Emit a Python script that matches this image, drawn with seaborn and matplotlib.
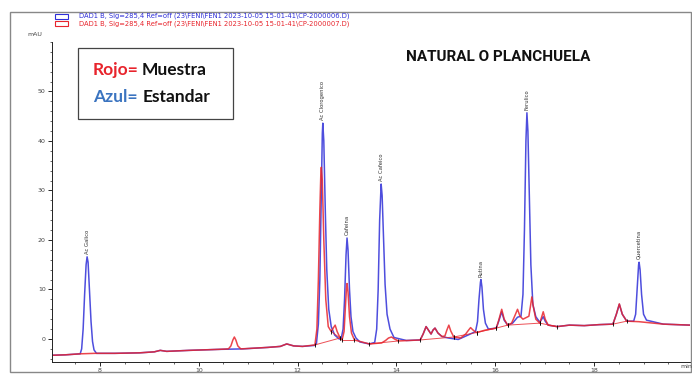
import numpy as np
import pandas as pd
import seaborn as sns
import matplotlib.pyplot as plt
from matplotlib.patches import Rectangle
from matplotlib.ticker import MultipleLocator

# blue trace = standard (estandar)
std_time = [7.00, 7.30, 7.60, 7.63, 7.66, 7.69, 7.72, 7.74, 7.76, 7.79, 7.82, 7.85, 7.88, 7.93,
            8.30, 8.80, 9.10, 9.22, 9.35, 9.80, 10.40, 10.90, 11.40, 11.65, 11.78, 11.92, 12.10,
            12.34, 12.38, 12.42, 12.45, 12.48, 12.50, 12.51, 12.53, 12.56, 12.59, 12.63, 12.68, 12.75,
            12.84, 12.88, 12.92, 12.95, 12.98, 13.00, 13.02, 13.05, 13.08, 13.12, 13.18, 13.26,
            13.45, 13.56, 13.60, 13.63, 13.66, 13.69, 13.71, 13.74, 13.77, 13.81, 13.87, 13.95, 14.20,
            14.48, 14.54, 14.60, 14.66, 14.70, 14.74, 14.78, 14.84, 14.92, 15.05, 15.25, 15.45,
            15.60, 15.64, 15.67, 15.70, 15.71, 15.73, 15.76, 15.80, 15.86, 16.02, 16.07, 16.13, 16.18,
            16.25, 16.35, 16.45, 16.52, 16.56, 16.59, 16.62, 16.64, 16.66, 16.69, 16.72, 16.76, 16.82,
            16.90, 16.94, 16.97, 17.01, 17.07, 17.25, 17.50, 17.80, 18.10, 18.38, 18.45, 18.51, 18.57,
            18.66, 18.80, 18.84, 18.87, 18.90, 18.91, 18.93, 18.96, 19.00, 19.06, 19.40, 19.94]
std_mau = [-3.3, -3.2, -3.0, -2.0, 2.0, 9.0, 15.0, 16.6, 15.5, 9.5, 3.5, -0.5, -2.2, -2.9,
           -2.9, -2.8, -2.6, -2.3, -2.5, -2.3, -2.1, -2.0, -1.7, -1.5, -1.0, -1.4, -1.5,
           -1.3, -1.0, 3.0, 12.0, 30.0, 41.5, 43.6, 40.0, 26.0, 14.0, 6.0, 2.5, 0.8,
           0.0, 0.0, 2.0, 8.0, 17.0, 20.4, 18.0, 10.0, 4.5, 1.5, 0.2, -0.6,
           -1.0, -0.7, 2.0, 10.0, 24.0, 31.3, 29.0, 20.0, 11.0, 5.0, 2.0, 0.3, -0.3,
           -0.2, 1.0, 2.5, 1.6, 1.0, 1.8, 2.2, 1.2, 0.5, 0.2, -0.1, 0.8,
           1.5, 3.5, 8.0, 11.5, 12.0, 10.5, 6.0, 3.2, 2.0, 2.2, 3.6, 5.5, 3.8,
           2.8, 3.2, 4.4, 4.6, 9.0, 22.0, 40.0, 45.7, 42.0, 28.0, 15.0, 7.0, 4.5,
           3.4, 4.0, 4.5, 3.6, 2.8, 2.5, 2.8, 2.7, 2.9, 3.0, 5.0, 7.0, 5.0,
           3.6, 3.6, 5.0, 10.0, 15.0, 15.5, 14.0, 9.0, 5.0, 3.8, 3.0, 2.8]

# red trace = sample (muestra)
smp_time = [7.00, 7.30, 7.60, 7.90, 8.30, 8.80, 9.10, 9.22, 9.35, 9.80, 10.40, 10.60, 10.65, 10.69,
            10.72, 10.75, 10.79, 10.85, 11.40, 11.65, 11.78, 11.92, 12.10, 12.35, 12.39, 12.42, 12.45,
            12.47, 12.48, 12.50, 12.53, 12.57, 12.62, 12.68, 12.72, 12.76, 12.80, 12.86, 12.90, 12.94,
            12.97, 12.99, 13.00, 13.02, 13.05, 13.09, 13.15, 13.45, 13.70, 13.78, 13.84, 13.90, 13.96,
            14.04, 14.48, 14.54, 14.60, 14.66, 14.70, 14.74, 14.78, 14.84, 14.92, 14.98, 15.02, 15.06,
            15.10, 15.16, 15.30, 15.40, 15.46, 15.50, 15.55, 15.62, 15.80, 16.02, 16.07, 16.13, 16.18,
            16.25, 16.33, 16.40, 16.45, 16.50, 16.56, 16.62, 16.68, 16.71, 16.74, 16.77, 16.82, 16.90,
            16.94, 16.97, 17.01, 17.07, 17.25, 17.50, 17.80, 18.10, 18.38, 18.45, 18.51, 18.57, 18.66,
            18.90, 19.40, 19.94]
smp_mau = [-3.3, -3.2, -3.0, -2.9, -2.9, -2.8, -2.6, -2.3, -2.5, -2.3, -2.1, -2.0, -1.4, -0.2,
           0.4, -0.2, -1.4, -2.0, -1.7, -1.5, -1.0, -1.4, -1.5, -1.2, 2.0, 12.0, 26.0,
           33.5, 34.7, 32.0, 20.0, 8.0, 2.5, 1.5, 2.2, 2.8, 1.5, 0.2, -0.2, 1.5,
           7.0, 10.5, 11.2, 9.5, 4.5, 1.2, -0.2, -1.0, -0.8, -0.3, 0.2, 0.4, 0.0,
           -0.4, -0.2, 1.0, 2.5, 1.6, 1.0, 1.8, 2.2, 1.2, 0.5, 0.6, 1.8, 2.8,
           1.6, 0.4, 0.2, 1.0, 1.8, 2.3, 1.8, 1.3, 1.8, 2.2, 3.8, 6.0, 4.0,
           2.8, 3.2, 4.8, 6.0, 4.6, 4.0, 4.3, 4.6, 6.5, 8.5, 6.5, 4.0, 3.2,
           4.5, 5.5, 4.0, 2.8, 2.5, 2.8, 2.7, 2.9, 3.0, 5.0, 7.1, 5.0, 3.6,
           3.5, 3.0, 2.8]

# identified compounds of the standard
peak_names = ["Ac Galico", "Ac Clorogenico", "Cafeina", "Ac Cafeico", "Rutina", "Ferulico", "Quercetina"]
peak_times = [7.74, 12.51, 13.00, 13.69, 15.71, 16.64, 18.91]
peak_heights = [16.6, 43.6, 20.4, 31.3, 12.0, 45.7, 15.5]

# integration baselines drawn by the software on the sample run
int_start = [12.35, 12.68, 12.90, 13.45, 14.48, 15.16, 15.62, 16.02, 16.25, 16.90, 18.38]
int_end = [12.86, 12.86, 13.15, 14.04, 15.16, 15.62, 16.02, 16.25, 16.90, 17.25, 18.66]

blue = "#2f2fd8"
red = "#e8242c"

std = pd.DataFrame({"time": std_time, "mAU": std_mau})
smp = pd.DataFrame({"time": smp_time, "mAU": smp_mau})

sns.set_style("ticks")
fig = plt.figure(figsize=(6.92, 3.74), dpi=100)
ax = fig.add_axes([52 / 692, 1 - 362 / 374, 638 / 692, 320 / 374])

sns.lineplot(data=std, x="time", y="mAU", color=blue, lw=1.1, alpha=0.85, ax=ax)
sns.lineplot(data=smp, x="time", y="mAU", color=red, lw=1.1, alpha=0.85, ax=ax)

# integration baselines + tick marks
for a, b in zip(int_start, int_end):
    ya = np.interp(a, smp_time, smp_mau)
    yb = np.interp(b, smp_time, smp_mau)
    ax.plot([a, b], [ya, yb], color=red, lw=0.7, alpha=0.8)
    ax.plot([a, b], [ya, yb], ls="none", marker="|", ms=3, mew=0.6, color="black")

for name, t, h in zip(peak_names, peak_times, peak_heights):
    ax.text(t, h + 0.6, name, rotation=90, ha="center", va="bottom", fontsize=3.8, color="#333333")

ax.set_xlim(7.03, 19.94)
ax.set_ylim(-4.65, 60)
ax.xaxis.set_major_locator(MultipleLocator(2))
ax.xaxis.set_minor_locator(MultipleLocator(0.5))
ax.yaxis.set_minor_locator(MultipleLocator(2))
ax.set_yticks(range(0, 60, 10))
ax.tick_params(which="major", length=3, width=0.7, labelsize=4.5, labelcolor="#444444", pad=1.5)
ax.tick_params(which="minor", length=1.5, width=0.5)
ax.set_xlabel("")
ax.set_ylabel("")
for s in ["top", "right"]:
    ax.spines[s].set_visible(False)
for s in ["left", "bottom"]:
    ax.spines[s].set_linewidth(0.7)
    ax.spines[s].set_color("#222222")

fig.text(35 / 692, 1 - 34 / 374, "mAU", fontsize=4.5, color="#444444", ha="center", va="center")
fig.text(680 / 692, 1 - 367 / 374, "min", fontsize=4.5, color="#444444", ha="left", va="center")

# file legend on top
fig.patches.append(Rectangle((55 / 692, 1 - 19 / 374), 13 / 692, 5 / 374, transform=fig.transFigure,
                             fill=False, edgecolor=blue, lw=0.8))
fig.patches.append(Rectangle((55 / 692, 1 - 26 / 374), 13 / 692, 5 / 374, transform=fig.transFigure,
                             fill=False, edgecolor=red, lw=0.8))
fig.text(79 / 692, 1 - 16 / 374, r"DAD1 B, Sig=285,4 Ref=off (23\FENI\FEN1 2023-10-05 15-01-41\CP-2000006.D)",
         fontsize=4.9, color=blue, va="center")
fig.text(79 / 692, 1 - 23.5 / 374, r"DAD1 B, Sig=285,4 Ref=off (23\FENI\FEN1 2023-10-05 15-01-41\CP-2000007.D)",
         fontsize=4.9, color=red, va="center")

# colour key box
fig.patches.append(Rectangle((78 / 692, 1 - 119 / 374), 155 / 692, 71 / 374, transform=fig.transFigure,
                             fill=True, facecolor="white", edgecolor="#444444", lw=0.9))
key_font = ["Lato", "DejaVu Sans"]
fig.text(93 / 692, 1 - 70 / 374, "Rojo=", fontsize=12.5, fontweight="bold", color="#e8242c", va="center", family=key_font)
fig.text(142 / 692, 1 - 70 / 374, "Muestra", fontsize=12.5, fontweight="bold", color="#111111", va="center", family=key_font)
fig.text(93 / 692, 1 - 97 / 374, "Azul=", fontsize=12.5, fontweight="bold", color="#3b74c0", va="center", family=key_font)
fig.text(143 / 692, 1 - 97 / 374, "Estandar", fontsize=12.5, fontweight="bold", color="#111111", va="center", family=key_font)

fig.text(498 / 692, 1 - 57 / 374, "NATURAL O PLANCHUELA", fontsize=11, fontweight="bold",
         color="#111111", ha="center", va="center", family=["Roboto", "DejaVu Sans"])

# outer frame
fig.patches.append(Rectangle((10 / 692, 2 / 374), 681 / 692, 360 / 374, transform=fig.transFigure,
                             fill=False, edgecolor="#888888", lw=1.0))

fig.savefig("out.png", dpi=100)
